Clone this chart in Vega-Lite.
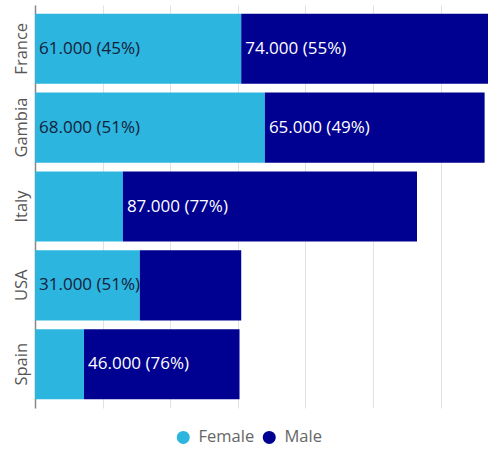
{
  "$schema": "https://vega.github.io/schema/vega-lite/v6.json",
  "width": 453,
  "height": 403,
  "autosize": {"type": "none"},
  "padding": {"left": 35, "top": 5, "right": 0, "bottom": 46},
  "background": "white",
  "config": {
    "view": {"stroke": null},
    "font": "Open Sans"
  },
  "data": {
    "values": [
      {"country": "France", "gender": "Female", "value": 61000},
      {"country": "France", "gender": "Male", "value": 74000},
      {"country": "Gambia", "gender": "Female", "value": 68000},
      {"country": "Gambia", "gender": "Male", "value": 65000},
      {"country": "Italy", "gender": "Female", "value": 26000},
      {"country": "Italy", "gender": "Male", "value": 87000},
      {"country": "USA", "gender": "Female", "value": 31000},
      {"country": "USA", "gender": "Male", "value": 30000},
      {"country": "Spain", "gender": "Female", "value": 14500},
      {"country": "Spain", "gender": "Male", "value": 46000}
    ]
  },
  "transform": [
    {"joinaggregate": [{"op": "sum", "field": "value", "as": "total"}], "groupby": ["country"]},
    {"stack": "value", "groupby": ["country"], "sort": [{"field": "gender", "order": "ascending"}], "as": ["start", "end"]},
    {"calculate": "replace(format(datum.value, ','), ',', '.') + ' (' + format(datum.value / datum.total, '.0%') + ')'", "as": "label"}
  ],
  "encoding": {
    "y": {
      "field": "country",
      "type": "nominal",
      "sort": null,
      "scale": {"paddingInner": 0.11, "paddingOuter": 0.11},
      "axis": {
        "title": null,
        "labelAngle": -90,
        "labelAlign": "center",
        "labelBaseline": "bottom",
        "labelPadding": 6,
        "labelFontSize": 16.5,
        "labelColor": "#555555",
        "ticks": false,
        "domainColor": "#888888",
        "domainWidth": 1.5,
        "grid": false
      }
    }
  },
  "layer": [
    {
      "mark": {"type": "bar", "clip": true},
      "encoding": {
        "x": {
          "field": "start",
          "type": "quantitative",
          "scale": {"domain": [0, 134000], "nice": false},
          "axis": {
            "title": null,
            "labels": false,
            "ticks": false,
            "domain": false,
            "grid": true,
            "gridColor": "#e2e2e2",
            "values": [0, 20000, 40000, 60000, 80000, 100000, 120000]
          }
        },
        "x2": {"field": "end"},
        "color": {
          "field": "gender",
          "type": "nominal",
          "scale": {"domain": ["Female", "Male"], "range": ["#2cb5df", "#000091"]},
          "legend": {
            "orient": "none",
            "legendX": 140,
            "legendY": 424,
            "direction": "horizontal",
            "title": null,
            "symbolType": "circle",
            "symbolSize": 169,
            "symbolStrokeWidth": 0,
            "labelFontSize": 16.5,
            "labelColor": "#666666",
            "labelOffset": 7,
            "columnPadding": 6,
            "padding": 0
          }
        }
      }
    },
    {
      "transform": [{"filter": "datum.value >= 31000"}],
      "mark": {"type": "text", "align": "left", "baseline": "middle", "dx": 4, "fontSize": 17},
      "encoding": {
        "x": {"field": "start", "type": "quantitative"},
        "text": {"field": "label"},
        "color": {
          "condition": {"test": "datum.gender === 'Male'", "value": "#ffffff"},
          "value": "#14213a"
        }
      }
    }
  ]
}
